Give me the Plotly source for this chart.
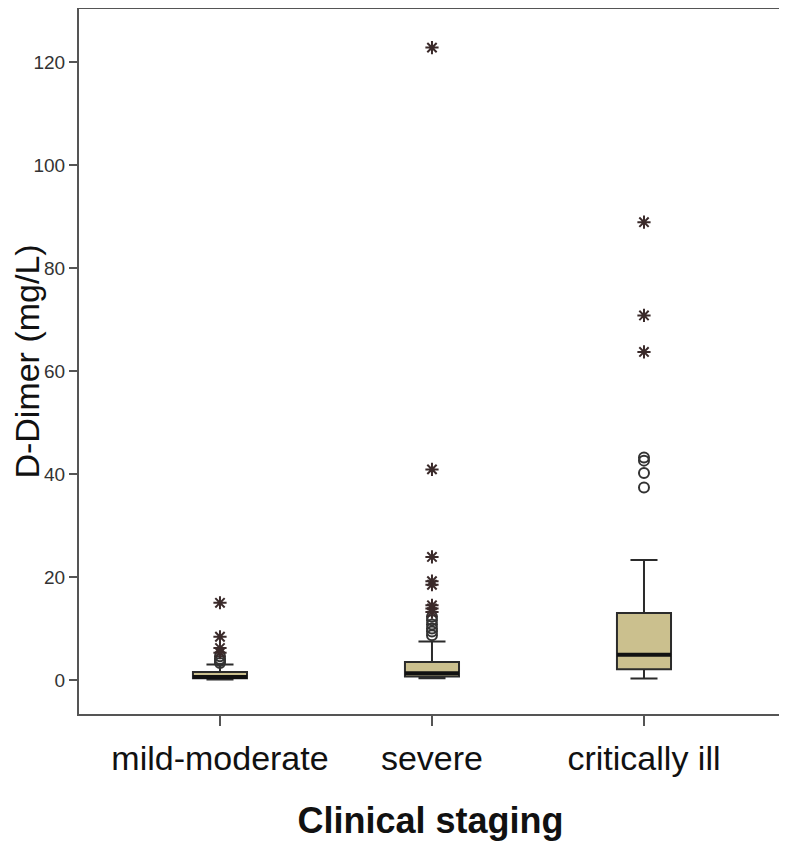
import plotly.graph_objects as go

# D-Dimer by clinical staging (SPSS style boxplot)
groups = ["mild-moderate", "severe", "critically ill"]

lower_fence = [0.1, 0.35, 0.3]
q1 = [0.35, 0.7, 2.1]
median = [0.6, 1.3, 4.9]
q3 = [1.55, 3.5, 13.0]
upper_fence = [3.0, 7.5, 23.3]

# outliers (circles) and extremes (stars)
outliers = [
    [3.3, 3.7, 4.1, 4.6],
    [8.7, 9.4, 10.0, 10.8, 11.6, 12.3],
    [37.4, 40.2, 42.6, 43.2],
]
extremes = [
    [5.3, 6.2, 8.4, 15.0],
    [13.2, 13.9, 14.5, 18.5, 19.2, 23.9, 40.9, 122.8],
    [63.7, 70.8, 88.9],
]

y_ticks = [0, 20, 40, 60, 80, 100, 120]

box_w = 0.255
fill = "#CBC08E"
edge = "#2b2b2b"
pos = list(range(len(groups)))

fig = go.Figure()

for i in pos:
    fig.add_trace(go.Box(
        x=[i], q1=[q1[i]], median=[median[i]], q3=[q3[i]],
        lowerfence=[lower_fence[i]], upperfence=[upper_fence[i]],
        width=box_w, whiskerwidth=0.5, boxpoints=False,
        fillcolor=fill, line=dict(color=edge, width=2),
        showlegend=False, hoverinfo="skip",
    ))
    # thick median line like SPSS
    fig.add_trace(go.Scatter(
        x=[i - box_w / 2, i + box_w / 2], y=[median[i], median[i]],
        mode="lines", line=dict(color="#111111", width=4),
        showlegend=False, hoverinfo="skip",
    ))
    fig.add_trace(go.Scatter(
        x=[i] * len(outliers[i]), y=outliers[i], mode="markers",
        marker=dict(symbol="circle-open", size=10, color="#333333",
                    line=dict(width=2, color="#333333")),
        showlegend=False,
    ))
    fig.add_trace(go.Scatter(
        x=[i] * len(extremes[i]), y=extremes[i], mode="markers",
        marker=dict(symbol="asterisk-open", size=11, color="#3a2a2a",
                    line=dict(width=2, color="#3a2a2a")),
        showlegend=False,
    ))

axis_col = "#555555"
fnt = "Liberation Sans, Arial"
fig.update_xaxes(
    range=[-0.665, 2.651], tickmode="array", tickvals=pos, ticktext=groups,
    ticks="outside", ticklen=10, tickwidth=2, tickcolor=axis_col,
    ticklabelstandoff=3,
    showline=True, linecolor=axis_col, linewidth=2, mirror=True,
    showgrid=False, zeroline=False, automargin=False,
    tickfont=dict(family=fnt, size=34, color="#111111"),
    title=dict(text="<b>Clinical staging</b>", standoff=32,
               font=dict(family=fnt, size=36, color="#111111")),
)
fig.update_yaxes(
    range=[-6.6, 130.3], tickmode="array", tickvals=y_ticks,
    ticks="outside", ticklen=8, tickwidth=2, tickcolor=axis_col,
    showline=True, linecolor=axis_col, linewidth=2, mirror=True,
    showgrid=False, zeroline=False, automargin=False,
    tickfont=dict(family=fnt, size=19, color="#333333"),
    title=dict(text="D-Dimer (mg/L)", standoff=4,
               font=dict(family=fnt, size=34, color="#111111")),
)
# page body adds 8px, so the figure is sized to fit the 787x841 window
fig.update_layout(
    width=779, height=833,
    margin=dict(l=71, r=5, t=1, b=127),
    paper_bgcolor="white", plot_bgcolor="white",
)

fig.write_html("out.html")
